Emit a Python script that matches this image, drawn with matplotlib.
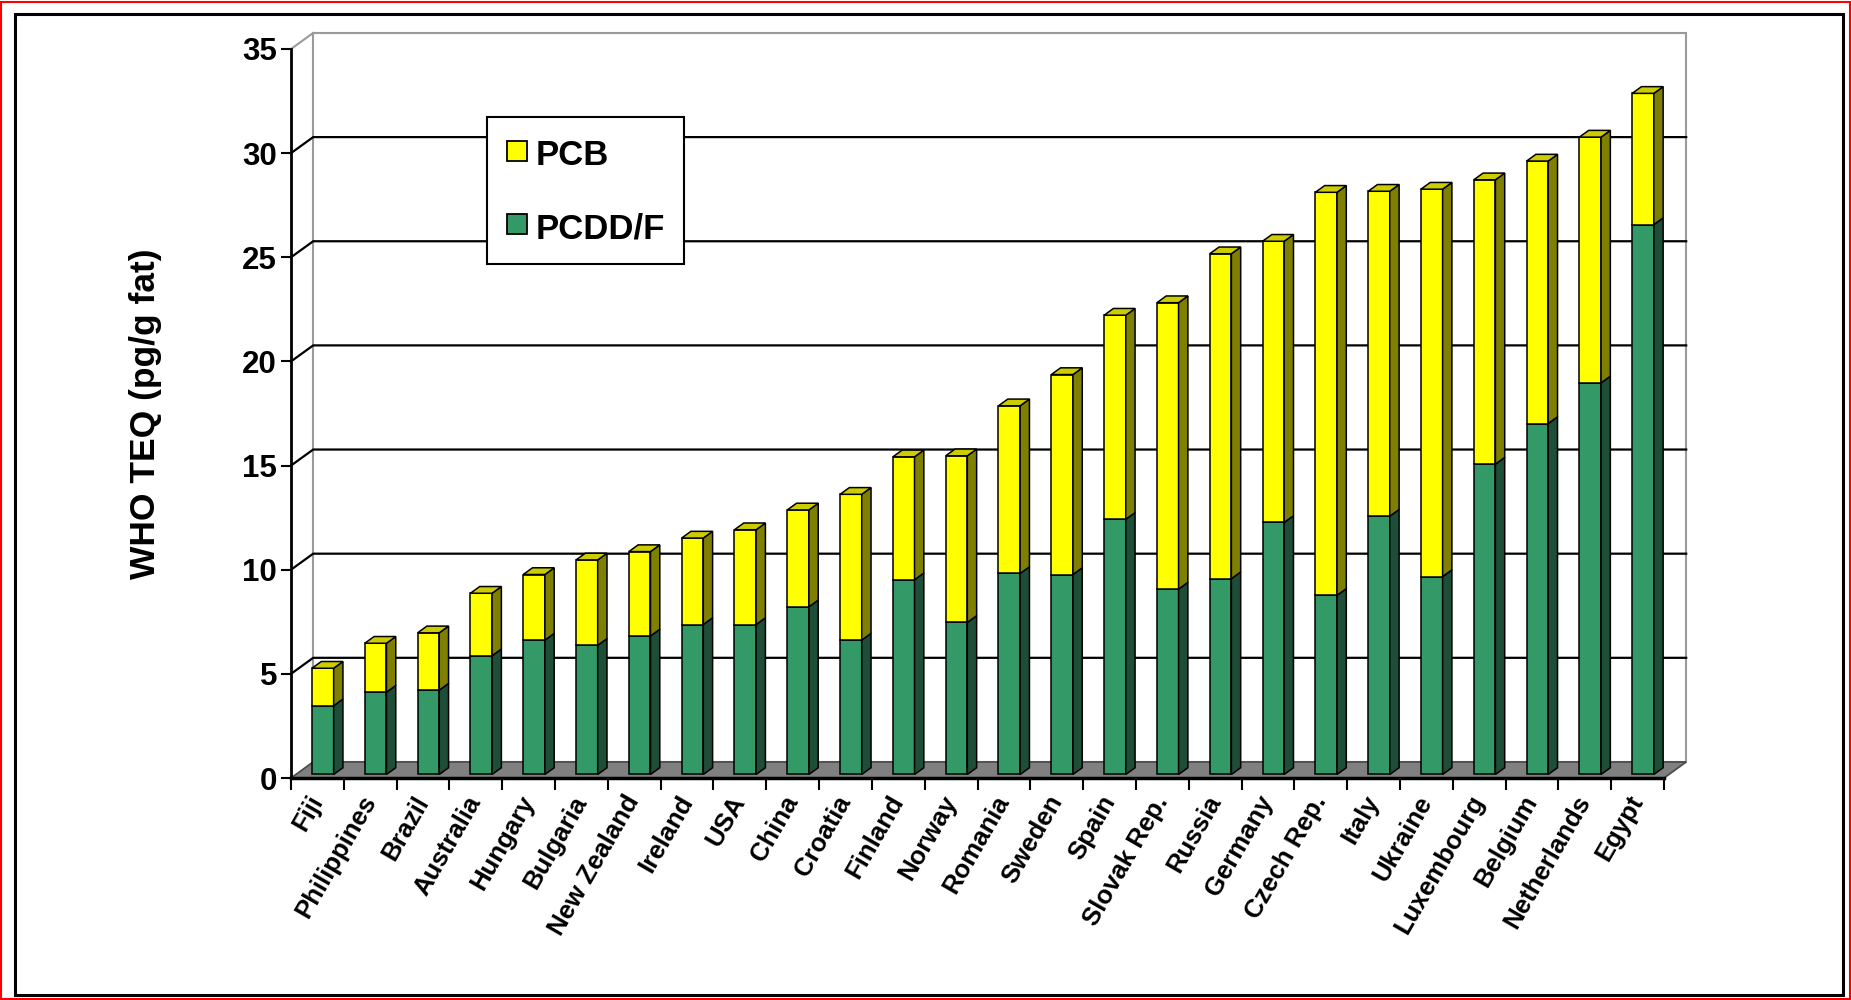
import matplotlib
matplotlib.use("Agg")
import matplotlib.pyplot as plt
import numpy as np
from matplotlib.lines import Line2D
from matplotlib.patches import Polygon, Rectangle

# values (pg/g fat, WHO TEQ)
countries = [
    "Fiji", "Philippines", "Brazil", "Australia", "Hungary", "Bulgaria",
    "New Zealand", "Ireland", "USA", "China", "Croatia", "Finland", "Norway",
    "Romania", "Sweden", "Spain", "Slovak Rep.", "Russia", "Germany",
    "Czech Rep.", "Italy", "Ukraine", "Luxembourg", "Belgium", "Netherlands",
    "Egypt",
]
pcddf = [3.3, 3.95, 4.05, 5.7, 6.45, 6.2, 6.65, 7.2, 7.2, 8.05, 6.45, 9.35,
         7.3, 9.65, 9.6, 12.25, 8.9, 9.4, 12.1, 8.6, 12.4, 9.5, 14.9, 16.85,
         18.8, 26.4]
pcb = [1.8, 2.35, 2.75, 3.0, 3.15, 4.1, 4.05, 4.15, 4.55, 4.65, 7.0, 5.9,
       8.0, 8.05, 9.6, 9.8, 13.75, 15.6, 13.5, 19.35, 15.6, 18.6, 13.65,
       12.6, 11.8, 6.3]
y_ticks = [0, 5, 10, 15, 20, 25, 30, 35]

GREEN = ("#339966", "#1e4d38", "#2a7a52")   # front, side, top
YELLOW = ("#ffff00", "#808000", "#cccc00")

# fake 3D: depth axis drawn as an oblique offset in data units
DX, DY = 0.42, 0.77
BAR_X0, BAR_X1 = 0.305, 0.715
BAR_Z0, BAR_Z1 = 0.22, 0.64

plt.rcParams["font.family"] = ["Liberation Sans", "DejaVu Sans"]
plt.rcParams["font.weight"] = "bold"


def proj(x, y, z):
    return (x + z * DX, y + z * DY)


def face(ax, pts, color, zorder, ec="black", lw=1.1):
    ax.add_patch(Polygon(pts, closed=True, facecolor=color, edgecolor=ec,
                         linewidth=lw, zorder=zorder, clip_on=False,
                         joinstyle="miter"))


fig = plt.figure(figsize=(18.51, 10), dpi=100)
ax = fig.add_axes([291 / 1851, 1 - 778 / 1000, 1373 / 1851, 729 / 1000])
ax.patch.set_visible(False)

n = len(countries)
ymax = y_ticks[-1]
ax.set_xlim(0, n)
ax.set_ylim(0, ymax)

# back wall, gridlines and floor
face(ax, [proj(0, 0, 1), proj(n, 0, 1), proj(n, ymax, 1), proj(0, ymax, 1)],
     "white", 0.5, ec="#9a9a9a", lw=1.5)
for v in y_ticks[1:-1]:
    pts = [proj(0, v, 0), proj(0, v, 1), proj(n, v, 1)]
    ax.plot([p[0] for p in pts], [p[1] for p in pts], color="black", lw=1.6,
            zorder=1, clip_on=False, solid_joinstyle="miter")
top = [proj(0, ymax, 0), proj(0, ymax, 1)]
ax.plot([p[0] for p in top], [p[1] for p in top], color="#9a9a9a", lw=1.5,
        zorder=1, clip_on=False)
face(ax, [proj(0, 0, 0), proj(n, 0, 0), proj(n, 0, 1), proj(0, 0, 1)],
     "#808080", 1.2, ec="#4d4d4d", lw=1.3)

# stacked columns: front faces via bar(), sides and tops as polygons
x = np.arange(n)
front_x = x + BAR_X0 + BAR_Z0 * DX
width = BAR_X1 - BAR_X0
base = BAR_Z0 * DY
low = np.array(pcddf)
high = low + np.array(pcb)
ax.bar(front_x, low, width=width, bottom=base, align="edge", color=GREEN[0],
       edgecolor="black", linewidth=1.1, zorder=3, clip_on=False)
ax.bar(front_x, pcb, width=width, bottom=base + low, align="edge",
       color=YELLOW[0], edgecolor="black", linewidth=1.1, zorder=3,
       clip_on=False)
for i in range(n):
    x0, x1 = i + BAR_X0, i + BAR_X1
    for y0, y1, cols in ((0, low[i], GREEN), (low[i], high[i], YELLOW)):
        face(ax, [proj(x1, y0, BAR_Z0), proj(x1, y0, BAR_Z1),
                  proj(x1, y1, BAR_Z1), proj(x1, y1, BAR_Z0)], cols[1], 3)
    face(ax, [proj(x0, high[i], BAR_Z0), proj(x1, high[i], BAR_Z0),
              proj(x1, high[i], BAR_Z1), proj(x0, high[i], BAR_Z1)],
         YELLOW[2], 3)

# axes
for side in ("top", "right"):
    ax.spines[side].set_visible(False)
ax.spines["left"].set_linewidth(2)
ax.spines["bottom"].set_linewidth(2.5)
ax.spines["left"].set_zorder(4)
ax.spines["bottom"].set_zorder(4)

ax.set_yticks(y_ticks)
ax.tick_params(axis="y", direction="out", length=7, width=1.5, pad=3,
               labelsize=22.5)
ax.set_xticks(x + 0.5)
ax.set_xticklabels(countries, rotation=60, ha="right", va="center",
                   rotation_mode="anchor")
ax.set_xticks(np.arange(n + 1), minor=True)
ax.tick_params(axis="x", which="major", length=0, pad=14, labelsize=18.5)
ax.tick_params(axis="x", which="minor", direction="out", length=8.5,
               width=1.5)

ax.set_ylabel("WHO TEQ (pg/g fat)", fontsize=25.5, fontweight="bold",
              va="center")
ax.yaxis.set_label_coords(-0.1063, 0.499)

handles = [
    Line2D([], [], linestyle="none", marker="s", markersize=15,
           markerfacecolor=YELLOW[0], markeredgecolor="black",
           markeredgewidth=1.3, label="PCB"),
    Line2D([], [], linestyle="none", marker="s", markersize=15,
           markerfacecolor=GREEN[0], markeredgecolor="black",
           markeredgewidth=1.3, label="PCDD/F"),
]
leg = ax.legend(handles=handles, loc="upper left",
                bbox_to_anchor=(486.6 / 1851, 1 - 116.7 / 1000),
                bbox_transform=fig.transFigure, borderaxespad=0, fontsize=25,
                frameon=True, fancybox=False, edgecolor="black", framealpha=1,
                handlelength=0.63, handleheight=1.2, handletextpad=0.23,
                labelspacing=1.05, borderpad=0.55)
leg.get_frame().set_linewidth(1.5)
leg.set_zorder(10)

# outer frames
fig.patches.append(Rectangle((1 / 1851, 1 / 1000), 1849 / 1851, 997 / 1000,
                             fill=False, edgecolor="red", linewidth=1.5,
                             transform=fig.transFigure, figure=fig))
fig.patches.append(Rectangle((15 / 1851, 1 - 995 / 1000), 1828 / 1851,
                             981 / 1000, fill=False, edgecolor="black",
                             linewidth=2.2, transform=fig.transFigure,
                             figure=fig))

fig.savefig("out.png", dpi=100)
